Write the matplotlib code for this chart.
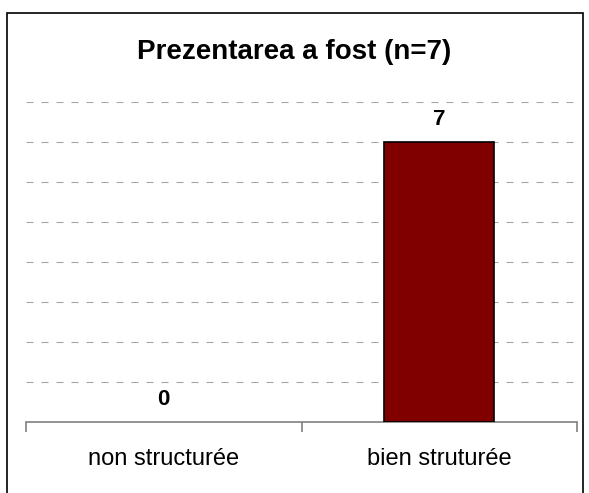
import matplotlib
matplotlib.use("Agg")
import matplotlib.pyplot as plt
from matplotlib.patches import Rectangle

categories = ["non structurée", "bien struturée"]
values = [0, 7]
title = "Prezentarea a fost (n=7)"

plt.rcParams['font.family'] = ['Liberation Sans', 'DejaVu Sans']

W, H = 589, 493
fig = plt.figure(figsize=(W/100, H/100), dpi=100)
fig.patches.append(Rectangle((6.5/W, -0.05), (583-6.5)/W, 1.05 - 13/H,
                             transform=fig.transFigure, fill=False,
                             edgecolor='black', linewidth=1.2))

ax = fig.add_axes([26/W, 1-422/H, (577-26)/W, (422-102)/H])
x = list(range(len(categories)))
edges = ['none' if v == 0 else 'black' for v in values]
ax.bar(x, values, width=0.4, color='#800000', edgecolor=edges, linewidth=1.2, zorder=3)
ax.set_xlim(-0.5, len(categories)-0.5)
ax.set_ylim(0, 8)
ax.set_yticks(range(1, 9))
ax.yaxis.grid(True, linestyle=(0, (6.3, 7.2)), color='#a6a6a6', linewidth=0.8)
ax.tick_params(axis='y', left=False, labelleft=False)
for s in ['left', 'right', 'top']:
    ax.spines[s].set_visible(False)
ax.spines['bottom'].set_color('#808080')
ax.spines['bottom'].set_linewidth(1.2)
ax.set_xticks([-0.5, 0.5, 1.5], minor=False)
ax.set_xticklabels([])
ax.tick_params(axis='x', direction='out', length=7, color='#808080', width=1.2)
ax.set_xticks(x, minor=True)
ax.set_xticklabels(categories, minor=True, fontsize=17)
ax.tick_params(axis='x', which='minor', length=0, pad=19)

for xi, v in zip(x, values):
    ax.text(xi, v + 0.3, str(v), ha='center', va='bottom', fontsize=16, fontweight='bold')

fig.text(0.5, 1-59/H, title, ha='center', va='baseline', fontsize=20, fontweight='bold')

fig.savefig("out.png", dpi=100)
